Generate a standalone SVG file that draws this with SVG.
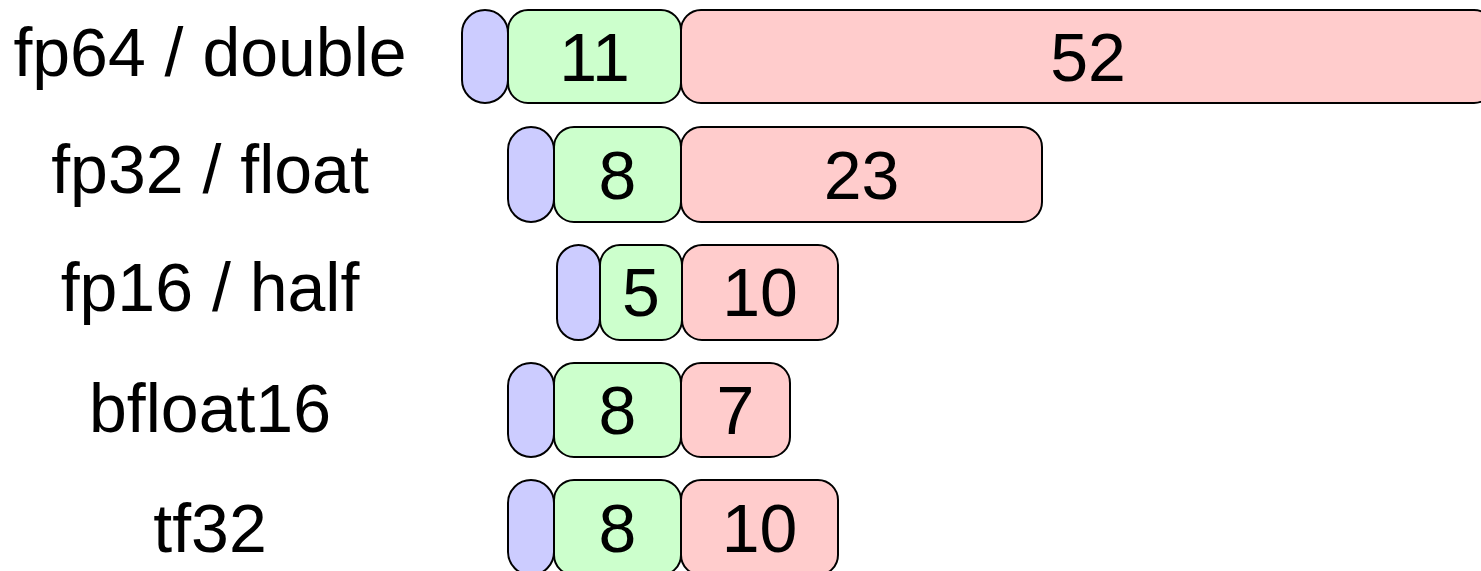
<svg xmlns="http://www.w3.org/2000/svg" width="1481" height="571" viewBox="0 0 1481 571">
<style>
rect{stroke:#000;stroke-width:2}
.s{fill:#ccccff}
.e{fill:#ccffcc}
.m{fill:#ffcccc}
text{font-family:"Liberation Sans",Arial,sans-serif;font-size:68px;fill:#000;text-anchor:middle}
</style>
<rect width="1481" height="571" fill="#fff" style="stroke:none"/>
<g id="row-fp64">
<text x="210" y="76">fp64 / double</text>
<rect class="s" x="462" y="10" width="46" height="93" rx="23" ry="23"/>
<rect class="e" x="508" y="10" width="173" height="93" rx="20" ry="20"/>
<rect class="m" x="681" y="10" width="813" height="93" rx="20" ry="20"/>
<text x="1088" y="81">52</text>
<text x="594.5" y="81">11</text>
</g>
<g id="row-fp32">
<text x="210" y="193">fp32 / float</text>
<rect class="s" x="508" y="127" width="46" height="95" rx="23" ry="23"/>
<rect class="e" x="554" y="127" width="127" height="95" rx="20" ry="20"/>
<rect class="m" x="681" y="127" width="361" height="95" rx="20" ry="20"/>
<text x="617.5" y="199">8</text>
<text x="861.5" y="199">23</text>
</g>
<g id="row-fp16">
<text x="210" y="311">fp16 / half</text>
<rect class="s" x="557" y="245" width="43" height="95" rx="21.5" ry="21.5"/>
<rect class="e" x="600" y="245" width="82" height="95" rx="20" ry="20"/>
<rect class="m" x="682" y="245" width="156" height="95" rx="20" ry="20"/>
<text x="641" y="316">5</text>
<text x="760" y="316">10</text>
</g>
<g id="row-bfloat16">
<text x="210" y="432">bfloat16</text>
<rect class="s" x="508" y="363" width="46" height="94" rx="23" ry="23"/>
<rect class="e" x="554" y="363" width="127" height="94" rx="20" ry="20"/>
<rect class="m" x="681" y="363" width="109" height="94" rx="20" ry="20"/>
<text x="617.5" y="434">8</text>
<text x="735.5" y="434">7</text>
</g>
<g id="row-tf32">
<text x="210" y="552">tf32</text>
<rect class="s" x="508" y="480" width="46" height="95" rx="23" ry="23"/>
<rect class="e" x="554" y="480" width="127" height="95" rx="20" ry="20"/>
<rect class="m" x="681" y="480" width="157" height="95" rx="20" ry="20"/>
<text x="617.5" y="552">8</text>
<text x="759.5" y="552">10</text>
</g>
<g id="connectors"></g>
</svg>
